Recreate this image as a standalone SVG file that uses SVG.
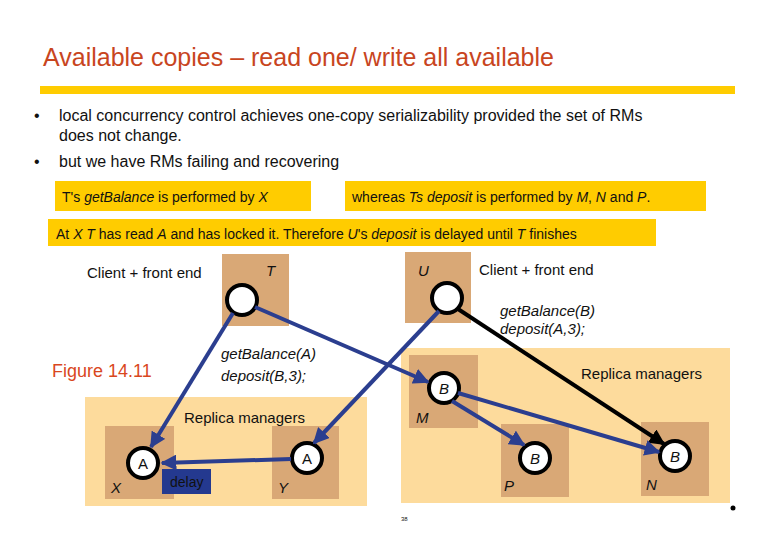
<svg xmlns="http://www.w3.org/2000/svg" width="780" height="540" viewBox="0 0 780 540">
<style>
text{font-family:"Liberation Sans",Arial,sans-serif;fill:#111}
.i{font-style:italic}
.yb{fill:#ffcc00}
.rm{fill:#fddb9c}
.bx{fill:#d9a876}
.c{fill:#fff;stroke:#000;stroke-width:4}
.ar{stroke:#2b3e8f;stroke-width:4;fill:none;marker-end:url(#ab)}
.ak{stroke:#000;stroke-width:4;fill:none;marker-end:url(#ak)}
</style>
<defs>
<marker id="ab" viewBox="0 0 10 10" refX="9" refY="5" markerWidth="4" markerHeight="4" orient="auto"><path d="M0,0L10,5L0,10z" fill="#2b3e8f"/></marker>
<marker id="ak" viewBox="0 0 10 10" refX="9" refY="5" markerWidth="4" markerHeight="4" orient="auto"><path d="M0,0L10,5L0,10z" fill="#000"/></marker>
</defs>
<rect width="780" height="540" fill="#fff"/>
<text x="43" y="66" font-size="25" style="fill:#c8451e">Available copies – read one/ write all available</text>
<rect x="40" y="86" width="695" height="8" class="yb"/>
<text x="34" y="121" font-size="16">•</text>
<text x="59" y="121" font-size="16">local concurrency control achieves one-copy serializability provided the set of RMs</text>
<text x="59" y="141" font-size="16">does not change.</text>
<text x="34" y="167" font-size="16">•</text>
<text x="59" y="167" font-size="16">but we have RMs failing and recovering</text>
<rect x="55" y="181" width="256" height="30" class="yb"/>
<text x="62" y="202" font-size="14">T's <tspan class="i">getBalance</tspan> is performed by <tspan class="i">X</tspan></text>
<rect x="345" y="181" width="361" height="30" class="yb"/>
<text x="352" y="202" font-size="14">whereas <tspan class="i">Ts deposit</tspan> is performed by <tspan class="i">M</tspan>, <tspan class="i">N</tspan> and <tspan class="i">P</tspan>.</text>
<rect x="48" y="219" width="608" height="27" class="yb"/>
<text x="56" y="239" font-size="14">At <tspan class="i">X T</tspan> has read <tspan class="i">A</tspan> and has locked it. Therefore <tspan class="i">U</tspan>'s <tspan class="i">deposit</tspan> is delayed until <tspan class="i">T</tspan> finishes</text>

<g id="rm-left"><rect x="85" y="397" width="282" height="109" class="rm"/><text x="184" y="423" font-size="15">Replica managers</text></g>
<g id="rm-right"><rect x="401" y="348" width="329" height="155" class="rm"/><text x="581" y="379" font-size="15">Replica managers</text></g>

<g id="T"><rect x="222" y="254" width="67" height="72" class="bx"/><text x="266" y="276" font-size="15" class="i">T</text><circle cx="242" cy="300" r="15" class="c"/></g>
<g id="U"><rect x="405" y="252" width="66" height="71" class="bx"/><text x="418" y="276" font-size="15" class="i">U</text><circle cx="447" cy="298" r="15" class="c"/></g>
<text x="87" y="278" font-size="15">Client + front end</text>
<text x="479" y="275" font-size="15">Client + front end</text>
<text x="500" y="316" font-size="15" class="i">getBalance(B)</text>
<text x="500" y="334" font-size="15" class="i">deposit(A,3);</text>
<text x="221" y="359" font-size="15" class="i">getBalance(A)</text>
<text x="221" y="381" font-size="15" class="i">deposit(B,3);</text>
<text x="52" y="377" font-size="18" style="fill:#d9471e">Figure 14.11</text>

<g id="X"><rect x="105" y="426" width="69" height="73" class="bx"/><circle cx="143" cy="463" r="15" class="c"/><text x="143" y="469" font-size="15" text-anchor="middle">A</text><text x="111" y="493" font-size="15" class="i">X</text></g>
<g id="Y"><rect x="272" y="426" width="67" height="73" class="bx"/><circle cx="307" cy="458" r="15" class="c"/><text x="307" y="464" font-size="15" text-anchor="middle">A</text><text x="278" y="493" font-size="15" class="i">Y</text></g>
<g id="delay"><rect x="162" y="469" width="49" height="25" fill="#24398f"/><text x="170" y="487" font-size="14">delay</text></g>
<g id="M"><rect x="409" y="355" width="69" height="73" class="bx"/><circle cx="444" cy="388" r="15" class="c"/><text x="444" y="394" font-size="15" text-anchor="middle" class="i">B</text><text x="416" y="423" font-size="15" class="i">M</text></g>
<g id="P"><rect x="501" y="424" width="68" height="73" class="bx"/><circle cx="535" cy="458" r="15" class="c"/><text x="535" y="464" font-size="15" text-anchor="middle" class="i">B</text><text x="504" y="491" font-size="15" class="i">P</text></g>
<g id="N"><rect x="641" y="422" width="68" height="74" class="bx"/><circle cx="675" cy="456" r="15" class="c"/><text x="675" y="462" font-size="15" text-anchor="middle" class="i">B</text><text x="646" y="490" font-size="15" class="i">N</text></g>

<g id="connectors">
<line x1="233" y1="313" x2="151" y2="447" class="ar"/>
<line x1="255" y1="307" x2="428" y2="382" class="ar"/>
<line x1="439" y1="311" x2="314" y2="443" class="ar"/>
<line x1="458" y1="309" x2="664" y2="444" class="ak"/>
<line x1="291" y1="459" x2="162" y2="463" class="ar"/>
<line x1="452" y1="401" x2="524" y2="445" class="ar"/>
<line x1="458" y1="393" x2="659" y2="452" class="ar"/>
</g>
<text x="401" y="521" font-size="6">38</text>
<circle cx="733" cy="508" r="2.5" fill="#000"/>
</svg>
